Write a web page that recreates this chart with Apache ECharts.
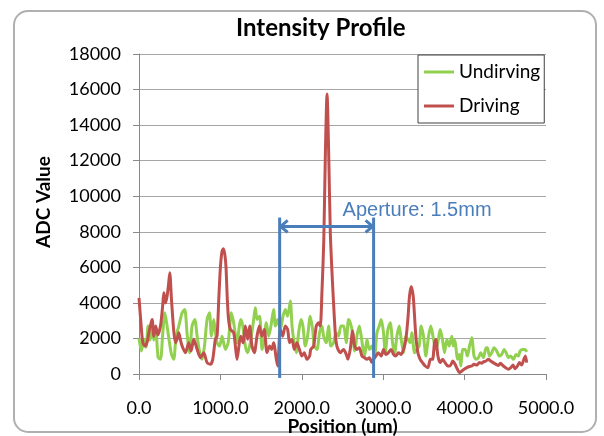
<!DOCTYPE html>
<html>
<head>
<meta charset="utf-8">
<script src="https://cdn.jsdelivr.net/npm/echarts@6/dist/echarts.min.js"></script>
<style>
html, body { margin: 0; padding: 0; background: #fff; }
#chart { width: 604px; height: 436px; }
</style>
</head>
<body>
<div id="chart"></div>
<script>
// position (um), ADC value
var undriving = [[0,2000],[30,1300],[60,1950],[85,1500],[112,2700],[135,1900],[162,2700],[182,1900],[205,2600],[235,920],[264,830],[292,2300],[317,3440],[345,2700],[370,1900],[399,1100],[427,830],[455,2100],[489,2700],[530,3440],[562,3630],[590,2300],[620,1200],[652,2700],[685,3070],[715,2100],[746,1200],[775,830],[805,1600],[836,3070],[865,3440],[890,2130],[918,3070],[940,2300],[959,1760],[990,1570],[1020,2130],[1061,1385],[1095,1760],[1135,3440],[1163,2880],[1204,1760],[1233,2700],[1250,3070],[1275,2700],[1306,1570],[1335,1200],[1367,1760],[1409,3070],[1429,3725],[1450,3070],[1482,3250],[1511,1385],[1531,1760],[1564,2880],[1593,2130],[1621,2700],[1654,3630],[1675,2700],[1703,3070],[1736,2510],[1769,3250],[1797,3630],[1826,3250],[1859,4100],[1880,2700],[1900,1945],[1932,1200],[1961,2320],[1990,3070],[2014,2700],[2043,1570],[2071,2130],[2104,3250],[2133,2510],[2153,1570],[2186,1385],[2218,2320],[2247,2700],[2268,2130],[2300,1760],[2329,2700],[2357,1570],[2390,1760],[2419,2320],[2452,2130],[2480,2700],[2513,2700],[2546,1760],[2574,3070],[2595,2880],[2624,2320],[2649,1290],[2677,2130],[2706,2695],[2730,2130],[2747,1570],[2772,1010],[2800,1945],[2830,1385],[2861,1570],[2894,1010],[2923,2320],[2951,2695],[2976,3070],[3004,2320],[3025,1200],[3058,2510],[3086,2880],[3115,1760],[3139,1110],[3168,2130],[3197,2695],[3221,1945],[3250,1200],[3278,2130],[3303,1945],[3332,1760],[3352,2320],[3385,1200],[3413,1385],[3442,1570],[3466,2695],[3495,2130],[3524,1010],[3557,2130],[3585,2695],[3618,1945],[3647,1385],[3671,1760],[3700,2510],[3728,1945],[3753,1200],[3782,1945],[3810,1570],[3843,2130],[3860,1570],[3880,1900],[3896,1385],[3912,825],[3935,1100],[3953,450],[3978,1385],[4006,1385],[4035,1010],[4060,1570],[4088,2040],[4116,1010],[4141,825],[4170,920],[4198,1200],[4231,920],[4264,1480],[4280,1480],[4305,1010],[4333,1200],[4362,1480],[4395,1290],[4428,1010],[4456,1100],[4485,1385],[4510,1200],[4538,920],[4567,1010],[4600,825],[4632,1100],[4660,1010],[4681,1290],[4714,1385],[4742,1385],[4763,1240]];

var driving = [[0,4285],[25,2800],[47,1760],[75,1570],[100,1800],[121,2320],[150,2900],[162,3070],[182,2130],[205,2700],[230,2200],[264,2700],[290,3800],[305,4565],[325,4000],[345,4380],[362,5000],[378,5690],[399,4190],[427,2410],[448,1760],[470,2000],[489,2320],[510,1900],[530,1570],[570,1200],[611,1760],[640,1300],[673,1950],[714,1385],[755,920],[795,1200],[836,640],[877,545],[906,825],[938,1950],[959,2130],[980,4190],[1000,6000],[1020,6900],[1037,7050],[1055,6700],[1069,6000],[1085,4200],[1100,3070],[1123,2510],[1163,2320],[1184,1570],[1204,820],[1233,1760],[1250,2130],[1278,1760],[1306,2700],[1335,1950],[1360,2700],[1388,1570],[1417,1200],[1450,2130],[1478,2700],[1510,2130],[1540,2510],[1572,1200],[1605,1570],[1630,1385],[1654,1760],[1687,825],[1703,450],[1736,2510],[1765,2130],[1797,2700],[1826,2510],[1850,1760],[1880,1945],[1908,1385],[1940,1760],[1970,1385],[2002,1010],[2030,1200],[2063,825],[2096,1010],[2110,1385],[2145,1570],[2178,2700],[2206,2880],[2227,2700],[2247,4565],[2270,7500],[2290,12500],[2310,15750],[2330,12500],[2350,8000],[2370,5800],[2390,4000],[2411,2320],[2431,1570],[2472,1200],[2513,1385],[2554,1010],[2567,825],[2595,1385],[2624,2415],[2649,1570],[2677,1385],[2706,1480],[2739,1010],[2770,920],[2800,825],[2830,920],[2861,640],[2882,825],[2910,1010],[2940,1200],[2976,1010],[3004,1385],[3033,1100],[3065,1200],[3098,1385],[3127,1100],[3156,1010],[3188,1200],[3220,1100],[3250,1385],[3278,1945],[3303,3070],[3323,4380],[3345,4920],[3368,4400],[3380,3630],[3401,2130],[3426,1200],[3454,825],[3483,640],[3516,450],[3549,355],[3580,825],[3606,825],[3630,1760],[3647,1945],[3672,1010],[3700,640],[3730,825],[3760,640],[3794,450],[3822,450],[3855,730],[3883,545],[3912,265],[3937,75],[3965,170],[3994,265],[4027,355],[4060,420],[4088,450],[4116,545],[4150,500],[4182,640],[4210,600],[4231,680],[4264,730],[4292,825],[4320,730],[4350,640],[4387,545],[4415,480],[4440,600],[4476,450],[4505,355],[4538,265],[4567,355],[4595,500],[4620,300],[4650,450],[4673,640],[4700,500],[4728,830],[4746,1010],[4763,640]];

var seriesNames = ['Undirving', 'Driving'];

// aperture marker (data coords)
var apertureX = [1728, 2882];
var apertureTop = 8800;
var apertureBottom = -220;
var arrowY = 8300;
var apertureLabel = 'Aperture: 1.5mm';

var dom = document.getElementById('chart');
var myChart = echarts.init(dom);

var axisFont = { fontFamily: 'Lato', fontSize: 18, color: '#000' };

var option = {
    animation: false,
    title: {
        text: 'Intensity Profile',
        left: 236,
        top: 16,
        padding: 0,
        textStyle: { fontFamily: 'Lato', fontSize: 24, fontWeight: 'bold', color: '#000' }
    },
    legend: {
        data: seriesNames,
        orient: 'vertical',
        left: 418,
        top: 55,
        padding: [7, 4, 7, 6],
        itemGap: 14,
        itemWidth: 30,
        itemHeight: 3,
        icon: 'rect',
        backgroundColor: '#fff',
        borderColor: '#404040',
        borderWidth: 1,
        textStyle: { fontFamily: 'Lato', fontSize: 19, lineHeight: 20, color: '#000' }
    },
    grid: { left: 139, top: 54, width: 407, height: 320, containLabel: false, outerBoundsMode: 'none' },
    xAxis: {
        type: 'value',
        min: 0,
        max: 5000,
        interval: 1000,
        name: 'Position (um)',
        nameLocation: 'middle',
        nameGap: 53,
        nameMoveOverlap: false,
        nameTextStyle: { fontFamily: 'Lato', fontSize: 19, fontWeight: 'bold', color: '#000', verticalAlign: 'middle' },
        axisLine: { lineStyle: { color: '#888', width: 1 } },
        axisTick: { show: true, inside: false, length: 6, lineStyle: { color: '#888' } },
        axisLabel: Object.assign({ margin: 25, formatter: function (v) { return v.toFixed(1); } }, axisFont),
        splitLine: { show: false }
    },
    yAxis: {
        type: 'value',
        min: 0,
        max: 18000,
        interval: 2000,
        name: 'ADC Value',
        nameLocation: 'middle',
        nameGap: 86,
        nameTextStyle: { fontFamily: 'Lato', fontSize: 19, fontWeight: 'bold', color: '#000', padding: [0, 0, 0, 24] },
        axisLine: { show: true, lineStyle: { color: '#888', width: 1 } },
        axisTick: { show: true, length: 6, lineStyle: { color: '#888' } },
        axisLabel: Object.assign({ margin: 18, formatter: function (v) { return String(v); } }, axisFont),
        splitLine: { show: true, lineStyle: { color: '#a6a6a6', width: 1 } }
    },
    series: [{
        name: seriesNames[0],
        type: 'line',
        data: undriving,
        showSymbol: false,
        symbol: 'none',
        smooth: 0.25,
        color: '#92d050',
        lineStyle: { color: '#92d050', width: 3 },
        z: 2
    }, {
        name: seriesNames[1],
        type: 'line',
        data: driving,
        showSymbol: false,
        symbol: 'none',
        smooth: 0.25,
        color: '#c0504d',
        lineStyle: { color: '#c0504d', width: 3 },
        z: 3
    }]
};

myChart.setOption(option);

// frame + aperture annotation, placed through the chart's own scales
function drawExtras() {
    var px = function (x, y) { return myChart.convertToPixel({ gridIndex: 0 }, [x, y]); };
    var l0 = px(apertureX[0], apertureTop), l1 = px(apertureX[0], apertureBottom);
    var r0 = px(apertureX[1], apertureTop), r1 = px(apertureX[1], apertureBottom);
    var a0 = px(apertureX[0], arrowY), a1 = px(apertureX[1], arrowY);
    var blue = '#4a7ebb';
    var head = 8, half = 6;
    var lineStyle = { stroke: blue, lineWidth: 3, fill: null };
    var graphics = [{
        type: 'rect',
        shape: { x: 14, y: 11, width: 582, height: 421, r: 14 },
        style: { fill: null, stroke: '#b0b0b0', lineWidth: 2 },
        silent: true, z: -10
    }, {
        type: 'line', shape: { x1: l0[0], y1: l0[1], x2: l1[0], y2: l1[1] }, style: lineStyle, z: 100
    }, {
        type: 'line', shape: { x1: r0[0], y1: r0[1], x2: r1[0], y2: r1[1] }, style: lineStyle, z: 100
    }, {
        type: 'line', shape: { x1: a0[0], y1: a0[1], x2: a1[0], y2: a1[1] }, style: lineStyle, z: 100
    }, {
        type: 'polyline', shape: { points: [[a0[0] + head, a0[1] - half], [a0[0] + 1, a0[1]], [a0[0] + head, a0[1] + half]] },
        style: lineStyle, z: 100
    }, {
        type: 'polyline', shape: { points: [[a1[0] - head, a1[1] - half], [a1[0] - 1, a1[1]], [a1[0] - head, a1[1] + half]] },
        style: lineStyle, z: 100
    }, {
        type: 'text',
        x: r0[0] - 31,
        y: a0[1] - 16,
        style: {
            text: apertureLabel,
            fill: blue,
            font: '20px "Liberation Sans", Arial, sans-serif',
            verticalAlign: 'middle'
        },
        z: 100
    }];
    myChart.setOption({ graphic: graphics });
}

drawExtras();
</script>
</body>
</html>
